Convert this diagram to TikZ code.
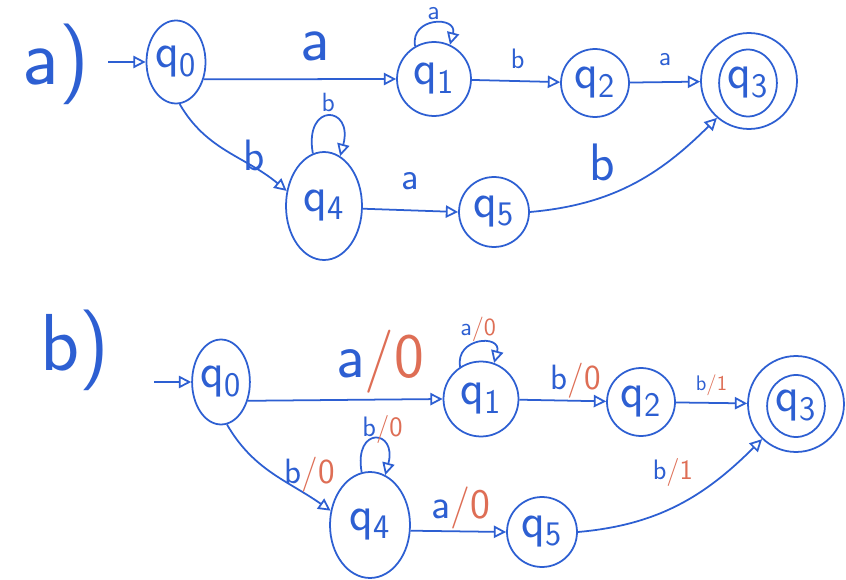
\documentclass[tikz,border=0pt]{standalone}
\usetikzlibrary{arrows.meta,positioning,shapes.geometric}
\definecolor{ink}{RGB}{45,95,210}
\definecolor{inkred}{RGB}{222,110,85}
\newcommand{\lblio}[2]{#1\textcolor{inkred}{/#2}}
\tikzset{
  fs/.style={font=\sffamily\fontsize{#1}{#1}\selectfont},
  statec/.style={draw=ink,line width=1pt,circle,inner sep=0pt,fs=28},
  stateo/.style={statec,ellipse},
  edge/.style={draw=ink,line width=1pt,-{Triangle[open,length=7pt,width=7pt]}},
  lbl/.style={inner sep=1pt}
}
\begin{document}
\begin{tikzpicture}[x=0.02cm,y=0.02cm,every node/.style={text=ink}]
\useasboundingbox[fill=white] (0,0) rectangle (846,579);
% a)
\node[fs=46] (pa) at (56,515) {a)};
\node[stateo,minimum width=1.18cm,minimum height=1.66cm] (q0a) at (176,517) {q\textsubscript{0}};
\node[statec,minimum size=1.48cm] (q1a) at (434,500) {q\textsubscript{1}};
\node[statec,minimum size=1.36cm] (q2a) at (595,496) {q\textsubscript{2}};
\node[stateo,minimum width=0.9cm,minimum height=1.34cm] (q3a) at (748,496) {q\textsubscript{3}};
\node[statec,minimum size=1.92cm] (q3ao) at (749,498) {};
\node[stateo,minimum width=1.52cm,minimum height=2.16cm] (q4a) at (324,373) {q\textsubscript{4}};
\node[statec,minimum size=1.4cm] (q5a) at (494,367) {q\textsubscript{5}};
\coordinate (ia) at (108,517);
\draw[edge] (ia) -- (q0a.west);
\draw[edge] (q0a.-32) -- (q1a.west) node[lbl,fs=37,pos=.58,above=0.3cm] {a};
\draw[edge] (q1a) -- (q2a) node[lbl,fs=16,pos=.52,above=0.2cm] {b};
\draw[edge] (q2a) -- (q3ao) node[lbl,fs=15,pos=.5,above=0.28cm] {a};
\draw[edge] (q1a.120) .. controls +(100:0.6cm) and +(75:0.6cm) .. (q1a.65) node[lbl,fs=15,pos=.5,above=0.02cm] {a};
\draw[edge] (q0a.-85) to[out=-60,in=140] node[lbl,fs=25,pos=.55,right=0.15cm] {b} (q4a.158);
\draw[edge] (q4a.102) .. controls +(100:1.05cm) and +(75:1.05cm) .. (q4a.72) node[lbl,fs=15,pos=.5,above=1pt] {b};
\draw[edge] (q4a.-4) -- (q5a.west) node[lbl,fs=22,pos=.5,above=0.35cm] {a};
\draw[edge] (q5a.east) to[out=5,in=225] node[lbl,fs=30,pos=.45,above left=0.15cm] {b} (q3ao.229);
% b)
\node[fs=46] (pb) at (75,229) {b)};
\node[stateo,minimum width=1.12cm,minimum height=1.7cm] (q0b) at (221,197) {q\textsubscript{0}};
\node[statec,minimum size=1.5cm] (q1b) at (481,180) {q\textsubscript{1}};
\node[statec,minimum size=1.36cm] (q2b) at (641,177) {q\textsubscript{2}};
\node[stateo,minimum width=0.88cm,minimum height=1.24cm] (q3b) at (796,173) {q\textsubscript{3}};
\node[statec,minimum size=1.92cm] (q3bo) at (796,175) {};
\node[stateo,minimum width=1.6cm,minimum height=2.12cm] (q4b) at (370,54) {q\textsubscript{4}};
\node[statec,minimum size=1.4cm] (q5b) at (542,47) {q\textsubscript{5}};
\coordinate (ib) at (154,197);
\draw[edge] (ib) -- (q0b.west);
\draw[edge] (q0b.-35) -- (q1b.west) node[lbl,fs=36,pos=.68,above=0.08cm] {\lblio{a}{0}};
\draw[edge] (q1b) -- (q2b) node[lbl,fs=20,pos=.65,above=0pt] {\lblio{b}{0}};
\draw[edge] (q2b) -- (q3bo) node[lbl,fs=12,pos=.5,above=0.1cm] {\lblio{b}{1}};
\draw[edge] (q1b.123) .. controls +(100:0.6cm) and +(75:0.6cm) .. (q1b.70) node[lbl,fs=14,pos=.5,above=-1pt] {\lblio{a}{0}};
\draw[edge] (q0b.-82) to[out=-60,in=145] node[lbl,fs=20,pos=.52,right=0.15cm] {\lblio{b}{0}} (q4b.160);
\draw[edge] (q4b.99) .. controls +(100:0.95cm) and +(75:0.95cm) .. (q4b.73) node[lbl,fs=16,pos=.5,above=-0.15cm,xshift=0.15cm] {\lblio{b}{0}};
\draw[edge] (q4b.-8) -- (q5b.west) node[lbl,fs=24,pos=.53,above=0pt] {\lblio{a}{0}};
\draw[edge] (q5b.east) to[out=5,in=225] node[lbl,fs=16,pos=.62,above left=0.1cm] {\lblio{b}{1}} (q3bo.226);
\end{tikzpicture}
\end{document}
